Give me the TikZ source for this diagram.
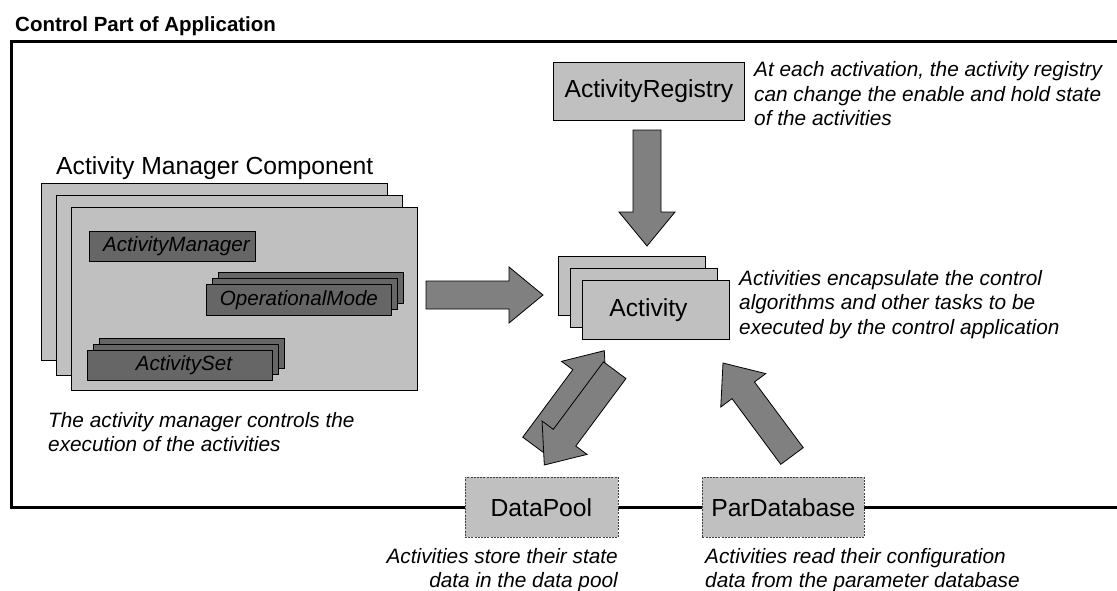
\documentclass[tikz,border=0pt]{standalone}
\usepackage{fontspec}
\setmainfont{Liberation Sans}
\usetikzlibrary{calc}

\definecolor{boxgray}{HTML}{C0C0C0}
\definecolor{partgray}{HTML}{666666}
\definecolor{arrowgray}{HTML}{808080}
\definecolor{dashgray}{HTML}{404040}

\tikzset{
  frameline/.style={line width=3pt, draw=black},
  lightbox/.style={draw=black, fill=boxgray, line width=0.9pt, inner sep=0pt,
    anchor=north west, font=\fontsize{24.7pt}{28pt}\selectfont},
  partbox/.style={draw=black, fill=partgray, line width=0.9pt, inner sep=0pt,
    anchor=north west, font=\itshape\fontsize{20.6pt}{24pt}\selectfont},
  storebox/.style={draw=dashgray, fill=boxgray, line width=0.8pt,
    dash pattern=on 2pt off 1.2pt, inner sep=0pt, anchor=north west,
    minimum height=60, font=\fontsize{24.7pt}{28pt}\selectfont},
  note/.style={inner sep=0pt, font=\itshape\fontsize{20.8pt}{24.5pt}\selectfont},
  heading/.style={inner sep=0pt, anchor=base west},
  fatarrowstyle/.style={draw=black, fill=arrowgray, line width=0.8pt, line join=miter},
}

% thick block arrow from tail coordinate #2 to tip coordinate #3
\newcommand{\fatarrow}[3]{%
  \coordinate (#1-hb) at ($(#3)!34pt!(#2)$);
  \draw[fatarrowstyle]
    ($(#2)!14pt!90:(#3)$) -- ($(#1-hb)!14pt!90:(#3)$) -- ($(#1-hb)!28pt!90:(#3)$)
    -- (#3)
    -- ($(#1-hb)!28pt!-90:(#3)$) -- ($(#1-hb)!14pt!-90:(#3)$) -- ($(#2)!14pt!-90:(#3)$)
    -- cycle;
}

\begin{document}
\begin{tikzpicture}[x=1pt, y=-1pt]
\useasboundingbox (0,0) rectangle (1117,590);

% frame of the control part, open on the right
\node[heading, font=\bfseries\fontsize{20.5pt}{24pt}\selectfont] (title) at (15,31) {Control Part of Application};
\coordinate (frTR) at (1117,41);
\coordinate (frTL) at (11,41);
\coordinate (frBL) at (11,507);
\coordinate (frBR) at (1117,507);
\draw[frameline] (frTR) -- (frTL) -- (frBL) -- (frBR);

% activity manager component
\node[heading, font=\fontsize{24.7pt}{28pt}\selectfont] (amclabel) at (56,174) {Activity Manager Component};
\node[lightbox, minimum width=346, minimum height=177] (amback) at (41,183) {};
\node[lightbox, minimum width=346, minimum height=180] (ammid) at (56,195) {};
\node[lightbox, minimum width=346, minimum height=183] (amfront) at (71,207) {};

\node[partbox, minimum width=166, minimum height=30] (actmgr) at (88.5,231) {\hspace*{9pt}ActivityManager};

\node[partbox, minimum width=185, minimum height=31] (opback) at (218,272) {};
\node[partbox, minimum width=185, minimum height=31] (opmid) at (212,278) {};
\node[partbox, minimum width=185, minimum height=31] (opfront) at (206,284) {OperationalMode};

\node[partbox, minimum width=185, minimum height=30] (setback) at (99,338) {};
\node[partbox, minimum width=185, minimum height=30] (setmid) at (93,344) {};
\node[partbox, minimum width=185, minimum height=30] (setfront) at (87,350) {\hspace*{8pt}ActivitySet};

\node[note, anchor=north west, align=left] (amnote) at (48,412)
  {The activity manager controls the\\execution of the activities};

% activity registry
\node[lightbox, minimum width=191, minimum height=58] (registry) at (553,62) {ActivityRegistry};
\node[note, anchor=north west, align=left] (regnote) at (754,61.5)
  {At each activation, the activity registry\\can change the enable and hold state\\of the activities};

% activities
\node[lightbox, minimum width=147, minimum height=59] (actback) at (558,256) {};
\node[lightbox, minimum width=147, minimum height=59] (actmid) at (570,268) {};
\node[lightbox, minimum width=147, minimum height=59] (actfront) at (582,280) {Activity\hspace*{15pt}};
\node[note, anchor=north west, align=left] (actnote) at (739,270)
  {Activities encapsulate the control\\algorithms and other tasks to be\\executed by the control application};

% data pool and parameter database on the frame border
\node[storebox, minimum width=153] (datapool) at (464.5,477) {DataPool};
\node[storebox, minimum width=162] (pardb) at (702,477) {ParDatabase};
\node[note, anchor=north east, align=right] (dpnote) at (618,548)
  {Activities store their state\\data in the data pool};
\node[note, anchor=north west, align=left] (pdnote) at (705,548)
  {Activities read their configuration\\data from the parameter database};

% block arrows
\coordinate (amOut) at (426,295);
\coordinate (actInL) at (543,295);
\fatarrow{amarrow}{amOut}{actInL}

\coordinate (regOut) at (647,130);
\coordinate (actInT) at (647,246);
\fatarrow{regarrow}{regOut}{actInT}

\coordinate (dpOut) at (534,445.5);
\coordinate (actInB) at (604.3,350.7);
\fatarrow{dparrowup}{dpOut}{actInB}

\coordinate (actOutB) at (614.7,370.2);
\coordinate (dpIn) at (544.3,465);
\fatarrow{dparrowdown}{actOutB}{dpIn}

\coordinate (pdOut) at (792,456);
\coordinate (actInR) at (723,363);
\fatarrow{pdarrow}{pdOut}{actInR}

\end{tikzpicture}
\end{document}
